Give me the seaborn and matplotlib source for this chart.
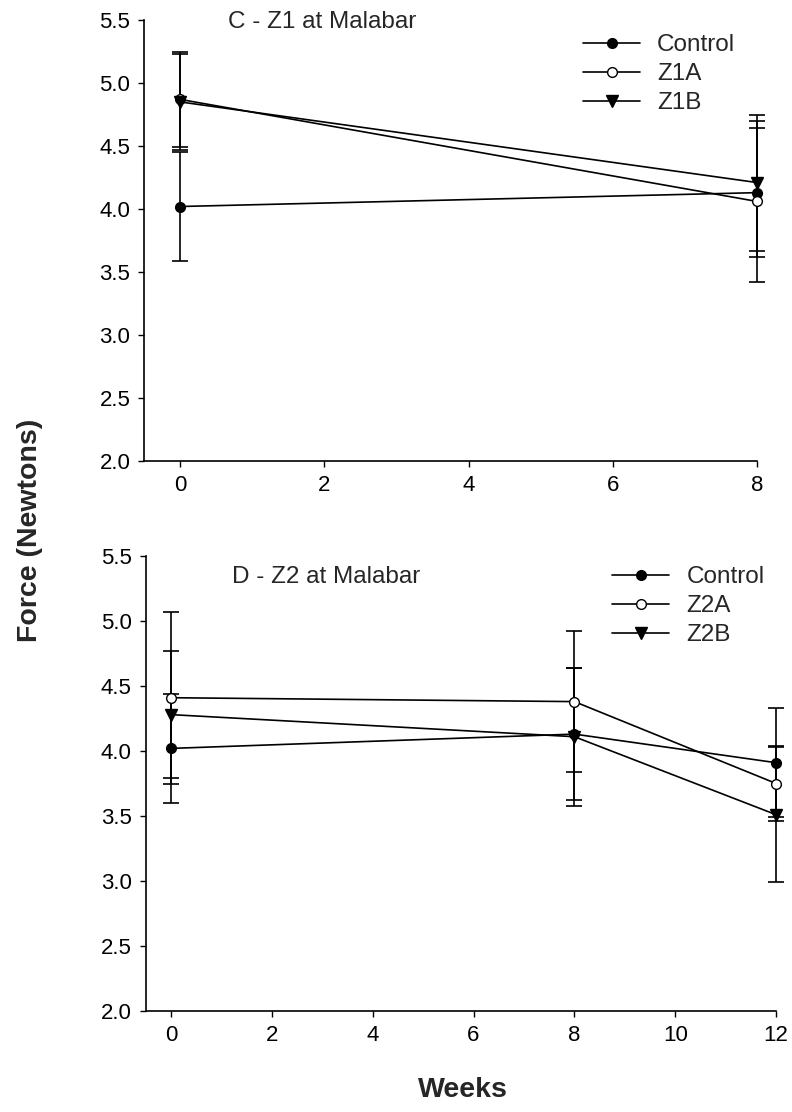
import numpy as np
import pandas as pd
import matplotlib
matplotlib.use("Agg")
import matplotlib.pyplot as plt
import seaborn as sns

# values
weeks_c = [0, 8]
control_c = [4.02, 4.13]
control_c_err = [0.43, 0.51]
z1a = [4.87, 4.06]
z1a_err = [0.38, 0.64]
z1b = [4.85, 4.21]
z1b_err = [0.38, 0.54]

weeks_d = [0, 8, 12]
control_d = [4.02, 4.13, 3.91]
control_d_err = [0.42, 0.51, 0.42]
z2a = [4.41, 4.38, 3.75]
z2a_err = [0.66, 0.54, 0.29]
z2b = [4.28, 4.11, 3.51]
z2b_err = [0.49, 0.53, 0.52]

sns.set_style("ticks")
plt.rcParams["font.family"] = ["Liberation Sans", "DejaVu Sans"]

# marker styles: filled circle, open circle, filled down triangle
styles = [("o", "black"), ("o", "white"), ("v", "black")]


def draw_panel(ax, weeks, series, title, xmax, title_y, leg_anchor):
    for (name, vals, errs), (mk, fc) in zip(series, styles):
        df = pd.DataFrame({"week": weeks, "force": vals})
        eb = ax.errorbar(weeks, vals, yerr=errs, fmt="none", ecolor="black",
                         elinewidth=1.2, capsize=6, capthick=1.2, zorder=2)
        for part in eb.lines:
            if part is None:
                continue
            for art in (part if isinstance(part, tuple) else [part]):
                art.set_clip_on(False)
        sns.lineplot(data=df, x="week", y="force", ax=ax, color="black",
                     linewidth=1.2, marker=mk, markersize=7 if mk == "o" else 8,
                     markerfacecolor=fc, markeredgecolor="black",
                     markeredgewidth=1.0, label=name, zorder=3, clip_on=False)
    ax.set_xlim(-0.5, xmax)
    ax.set_ylim(2.0, 5.5)
    ax.set_xticks(np.arange(0, xmax + 1, 2))
    ax.set_yticks(np.arange(2.0, 5.51, 0.5))
    ax.set_yticklabels([f"{v:.1f}" for v in np.arange(2.0, 5.51, 0.5)])
    ax.set_xlabel("")
    ax.set_ylabel("")
    for s in ["top", "right"]:
        ax.spines[s].set_visible(False)
    for s in ["left", "bottom"]:
        ax.spines[s].set_linewidth(1.2)
        ax.spines[s].set_color("black")
    ax.tick_params(direction="out", length=4, width=1.0, pad=6,
                   labelsize=16, colors="black")
    ax.text(0.137, title_y, title, transform=ax.transAxes, fontsize=17.5,
            ha="left", va="center")
    ax.legend(loc="upper left", bbox_to_anchor=leg_anchor, frameon=False,
              fontsize=17.5, handlelength=2.35, handletextpad=0.7,
              labelspacing=0.29, borderpad=0, borderaxespad=0)


fig = plt.figure(figsize=(7.92, 11.12), dpi=100)
ax1 = fig.add_axes([0.182, 0.5854, 0.774, 0.3966])
ax2 = fig.add_axes([0.184, 0.0908, 0.796, 0.4092])

draw_panel(ax1, weeks_c,
           [("Control", control_c, control_c_err),
            ("Z1A", z1a, z1a_err),
            ("Z1B", z1b, z1b_err)],
           "C - Z1 at Malabar", 8, 0.995, (0.716, 0.968))
draw_panel(ax2, weeks_d,
           [("Control", control_d, control_d_err),
            ("Z2A", z2a, z2a_err),
            ("Z2B", z2b, z2b_err)],
           "D - Z2 at Malabar", 12, 0.954, (0.74, 0.978))

fig.text(30 / 792, 1 - 530 / 1112, "Force (Newtons)", rotation=90,
         fontsize=20.5, fontweight="bold", ha="center", va="center")
fig.text(463 / 792, 1 - 1090 / 1112, "Weeks", fontsize=20.5,
         fontweight="bold", ha="center", va="center")

fig.savefig("out.png", dpi=100)
